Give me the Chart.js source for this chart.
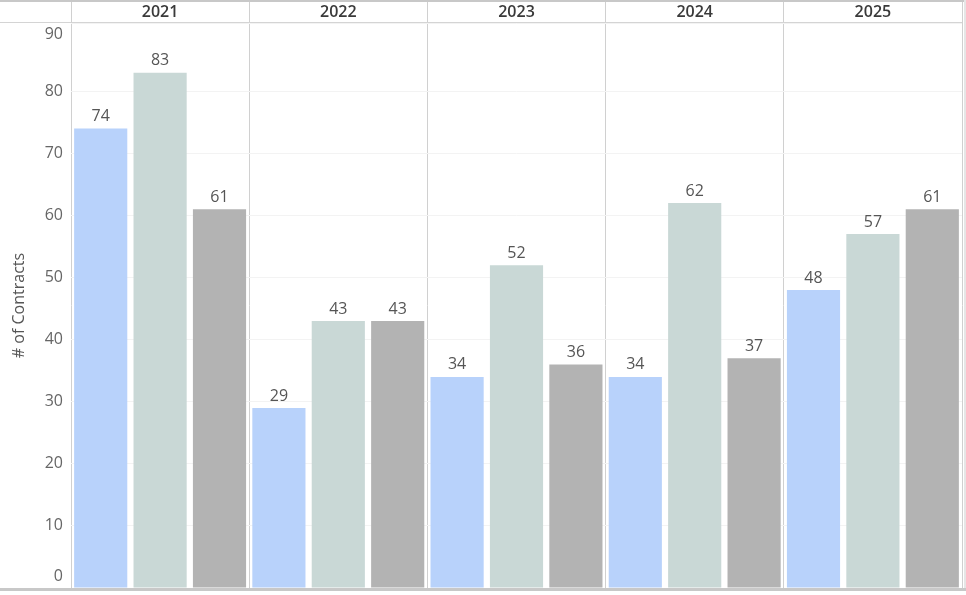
<!DOCTYPE html>
<html>
<head>
<meta charset="utf-8">
<script src="https://cdn.jsdelivr.net/npm/chart.js@4/dist/chart.umd.min.js"></script>
<style>
html,body{margin:0;padding:0;background:#fff;}
#wrap{width:966px;height:595px;position:relative;}
</style>
</head>
<body>
<div id="wrap"><canvas id="c" width="966" height="595"></canvas></div>
<script>
const years = ['2021', '2022', '2023', '2024', '2025'];
const seriesA = [74, 29, 34, 34, 48];
const seriesB = [83, 43, 52, 62, 57];
const seriesC = [61, 43, 36, 37, 61];
const seriesNames = ['Series A', 'Series B', 'Series C'];
const yTicks = [0, 10, 20, 30, 40, 50, 60, 70, 80, 90];

const FONT = '"Open Sans", "Noto Sans", "DejaVu Sans", sans-serif';

const framePlugin = {
  id: 'frame',
  beforeDraw(chart) {
    const ctx = chart.ctx;
    ctx.save();
    ctx.fillStyle = '#fff';
    ctx.fillRect(0, 0, chart.width, chart.height);
    ctx.restore();
  },
  afterDraw(chart) {
    const ctx = chart.ctx;
    const ca = chart.chartArea;
    const y = chart.scales.y;
    ctx.save();
    // top border
    ctx.fillStyle = '#c8c8c8';
    ctx.fillRect(0, 0, chart.width, 2);
    // header separator
    ctx.fillStyle = '#d4d4d4';
    ctx.fillRect(0, ca.top - 1, ca.right, 1);
    // bottom axis line
    ctx.fillStyle = '#c8c8c8';
    ctx.fillRect(0, ca.bottom, chart.width, 3);
    // right edge light
    ctx.fillStyle = '#e6e6e6';
    ctx.fillRect(chart.width - 2, 0, 2, ca.bottom);
    // y tick labels
    ctx.font = '16px ' + FONT;
    ctx.fillStyle = '#666666';
    ctx.textAlign = 'right';
    ctx.textBaseline = 'middle';
    yTicks.forEach(v => {
      let py = y.getPixelForValue(v);
      py = Math.max(ca.top + 11, Math.min(ca.bottom - 12, py));
      ctx.fillText(String(v), ca.left - 8, py);
    });
    // value labels
    ctx.font = '16px ' + FONT;
    ctx.fillStyle = '#555555';
    ctx.textAlign = 'center';
    ctx.textBaseline = 'middle';
    chart.data.datasets.forEach((ds, i) => {
      const meta = chart.getDatasetMeta(i);
      meta.data.forEach((bar, j) => {
        ctx.fillText(String(ds.data[j]), bar.x, bar.y - 12);
      });
    });
    ctx.restore();
  }
};

new Chart(document.getElementById('c'), {
  type: 'bar',
  data: {
    labels: years,
    datasets: [
      { label: seriesNames[0], data: seriesA, backgroundColor: '#b8d2fb' },
      { label: seriesNames[1], data: seriesB, backgroundColor: '#c9d8d6' },
      { label: seriesNames[2], data: seriesC, backgroundColor: '#b3b3b3' }
    ]
  },
  options: {
    responsive: false,
    animation: false,
    devicePixelRatio: 1,
    layout: { padding: { left: 0, right: 4, top: 0, bottom: 7 } },
    datasets: { bar: { categoryPercentage: 1.0, barPercentage: 0.895 } },
    plugins: { legend: { display: false }, tooltip: { enabled: false } },
    scales: {
      x: {
        position: 'top',
        grid: { display: true, offset: true, color: '#d0d0d0', lineWidth: 1, drawTicks: true, tickLength: 23, tickColor: '#d0d0d0' },
        border: { display: false },
        ticks: { font: { family: FONT, size: 16, weight: '600' }, color: '#3a3a3a', padding: -22 },
        afterFit(s) { s.height = 23; }
      },
      y: {
        min: 0,
        max: 91,
        grid: { color: '#f3f3f3', drawTicks: false },
        border: { display: false },
        ticks: { stepSize: 10, display: false },
        title: { display: true, text: '# of Contracts', color: '#555555', font: { family: FONT, size: 16 }, padding: { top: 10, bottom: 0 } },
        afterFit(s) { s.width = 71; }
      }
    }
  },
  plugins: [framePlugin]
});
</script>
</body>
</html>
